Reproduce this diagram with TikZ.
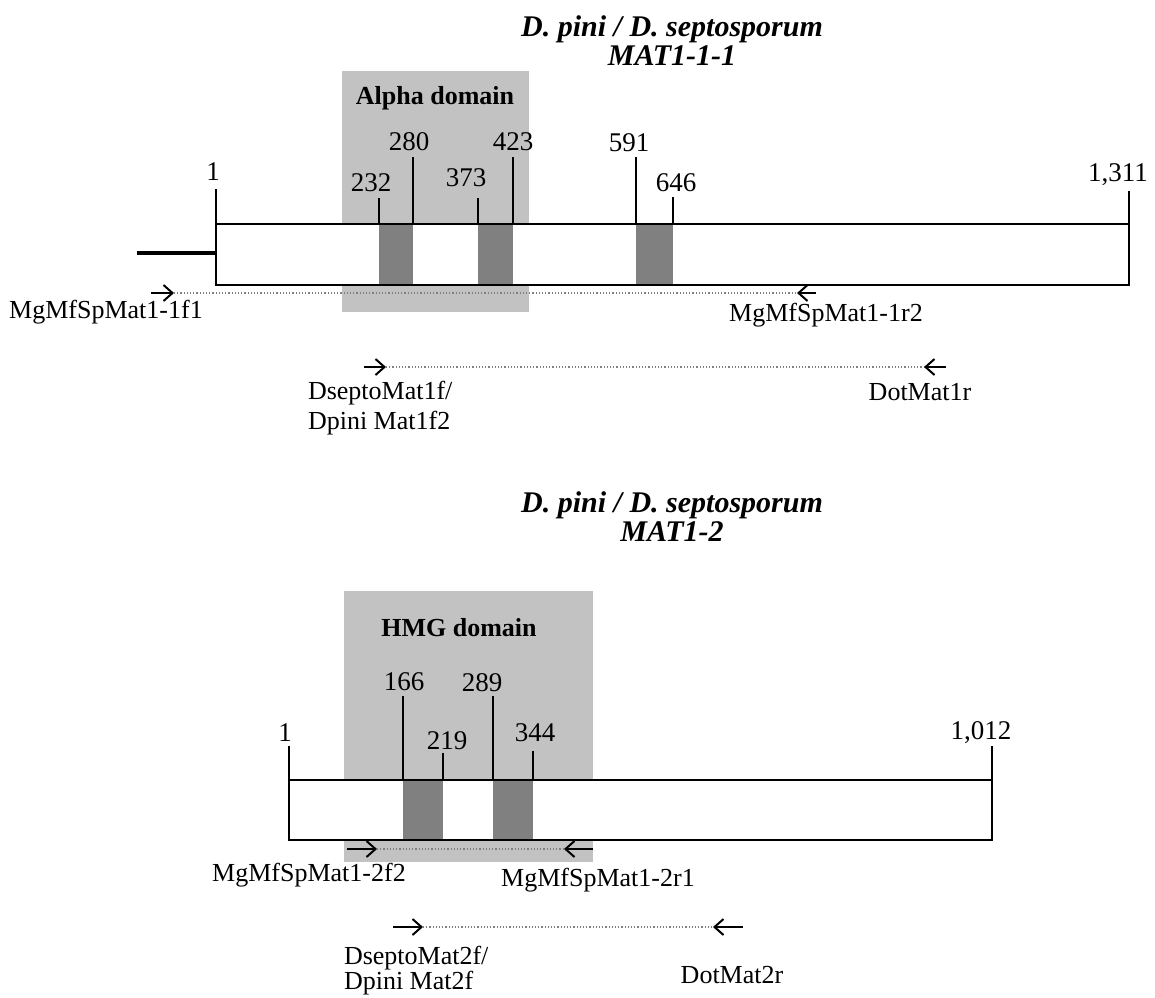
\documentclass[tikz,border=0pt]{standalone}
\usepackage{fontspec}
\setmainfont{Liberation Serif}
\usetikzlibrary{arrows.meta,positioning}

\definecolor{domaingray}{gray}{0.76}
\definecolor{motifgray}{gray}{0.50}

\begin{document}
\begin{tikzpicture}[x=0.5pt,y=-0.5pt,line width=1pt,
                    >={Straight Barb[length=4.5pt,width=8pt]}]
  \tikzstyle{domainbox}=[fill=domaingray,draw=none]
  \tikzstyle{motif}=[fill=motifgray,draw=none]
  \tikzstyle{numlab}=[inner sep=0pt,font=\fontsize{13.5}{15}\selectfont]
  \tikzstyle{primerlab}=[inner sep=0pt,font=\fontsize{13}{15}\selectfont]
  \tikzstyle{domlab}=[inner sep=0pt,font=\fontsize{13}{15}\selectfont\bfseries]
  \tikzstyle{genetitle}=[inner sep=0pt,anchor=base,font=\fontsize{15}{15}\selectfont\bfseries\itshape]
  \tikzstyle{primer}=[->,line width=1pt]
  \tikzstyle{amplicon}=[densely dotted,line width=0.6pt,gray]

  \useasboundingbox (0,0) rectangle (1155,997);

  % MAT1-1-1
  \node[genetitle] (title1a) at (672,36) {D. pini / D. septosporum};
  \node[genetitle] (title1b) at (672,65) {MAT1-1-1};
  \fill[domainbox] (342,71) rectangle (529,312);
  \node[domlab] (alpha) at (435,98) {Alpha domain};
  \draw[line width=2pt] (137,253) -- (216,253);
  \fill[white] (216,224) rectangle (1129,285);
  \fill[motif] (379,224) rectangle (413,285);
  \fill[motif] (478,224) rectangle (513,285);
  \fill[motif] (636,224) rectangle (673,285);
  \draw (216,224) rectangle (1129,285);
  \draw (216,224) -- (216,189);
  \draw (379,224) -- (379,198);
  \draw (413,224) -- (413,157);
  \draw (478,224) -- (478,198);
  \draw (513,224) -- (513,157);
  \draw (636,224) -- (636,157);
  \draw (673,224) -- (673,197);
  \draw (1129,224) -- (1129,191);
  \node[numlab] (p1)    at (213,172)  {1};
  \node[numlab] (p232)  at (371,183)  {232};
  \node[numlab] (p280)  at (409,142)  {280};
  \node[numlab] (p373)  at (466,178)  {373};
  \node[numlab] (p423)  at (513,142)  {423};
  \node[numlab] (p591)  at (629,143)  {591};
  \node[numlab] (p646)  at (676,183)  {646};
  \node[numlab] (p1311) at (1118,175) {1,311};

  % primers MAT1-1-1
  \coordinate (f1a) at (151,293);
  \coordinate (f1b) at (174,293);
  \coordinate (r2b) at (797,293);
  \coordinate (r2a) at (816,293);
  \draw[amplicon] (f1b) -- (r2b);
  \draw[primer] (f1a) -- (f1b);
  \draw[primer] (r2a) -- (r2b);
  \node[primerlab] (f1lab) at (106,312) {MgMfSpMat1-1f1};
  \node[primerlab] (r2lab) at (826,315) {MgMfSpMat1-1r2};

  \coordinate (df1a) at (364,367);
  \coordinate (df1b) at (386,367);
  \coordinate (dr1b) at (924,367);
  \coordinate (dr1a) at (946,367);
  \draw[amplicon] (df1b) -- (dr1b);
  \draw[primer] (df1a) -- (df1b);
  \draw[primer] (dr1a) -- (dr1b);
  \node[primerlab,align=left,anchor=north west] (df1lab) at (307,380) {DseptoMat1f/\\Dpini Mat1f2};
  \node[primerlab] (dr1lab) at (920,392) {DotMat1r};

  % MAT1-2
  \node[genetitle] (title2a) at (672,512) {D. pini / D. septosporum};
  \node[genetitle] (title2b) at (672,541) {MAT1-2};
  \fill[domainbox] (344,591) rectangle (593,862);
  \node[domlab] (hmg) at (459,628) {HMG domain};
  \fill[white] (289,780) rectangle (992,840);
  \fill[motif] (403,780) rectangle (443,840);
  \fill[motif] (493,780) rectangle (533,840);
  \draw (289,780) rectangle (992,840);
  \draw (289,780) -- (289,746);
  \draw (403,780) -- (403,696);
  \draw (443,780) -- (443,753);
  \draw (493,780) -- (493,696);
  \draw (533,780) -- (533,751);
  \draw (992,780) -- (992,746);
  \node[numlab] (q1)    at (285,733) {1};
  \node[numlab] (q166)  at (404,682) {166};
  \node[numlab] (q219)  at (447,741) {219};
  \node[numlab] (q289)  at (482,683) {289};
  \node[numlab] (q344)  at (535,733) {344};
  \node[numlab] (q1012) at (981,733) {1,012};

  % primers MAT1-2
  \coordinate (f2a) at (347,849);
  \coordinate (f2b) at (377,849);
  \coordinate (r1b) at (564,849);
  \coordinate (r1a) at (593,849);
  \draw[amplicon] (f2b) -- (r1b);
  \draw[primer] (f2a) -- (f2b);
  \draw[primer] (r1a) -- (r1b);
  \node[primerlab] (f2lab) at (309,875) {MgMfSpMat1-2f2};
  \node[primerlab] (r1lab) at (598,880) {MgMfSpMat1-2r1};

  \coordinate (df2a) at (393,927);
  \coordinate (df2b) at (423,927);
  \coordinate (dr2b) at (713,927);
  \coordinate (dr2a) at (743,927);
  \draw[amplicon] (df2b) -- (dr2b);
  \draw[primer] (df2a) -- (df2b);
  \draw[primer] (dr2a) -- (dr2b);
  \node[primerlab,align=left,anchor=north west,font=\fontsize{13}{12.5}\selectfont] (df2lab) at (343,945) {DseptoMat2f/\\Dpini Mat2f};
  \node[primerlab] (dr2lab) at (732,975) {DotMat2r};
\end{tikzpicture}
\end{document}
